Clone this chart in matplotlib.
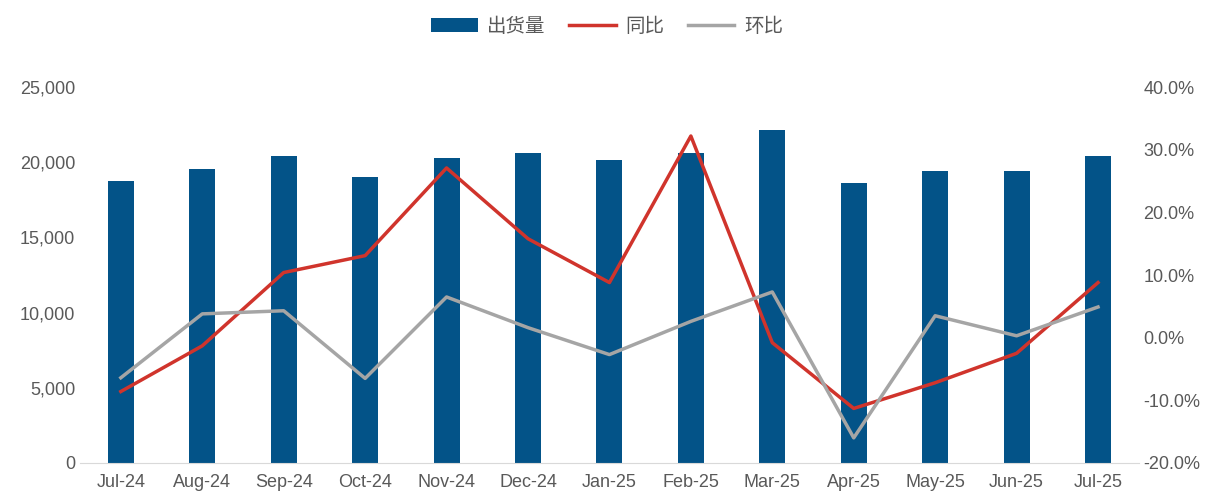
import matplotlib
matplotlib.use("Agg")
import matplotlib.pyplot as plt
from matplotlib.ticker import FuncFormatter

plt.rcParams['font.family'] = ['Liberation Sans', 'Noto Sans CJK SC', 'DejaVu Sans']

months = ["Jul-24","Aug-24","Sep-24","Oct-24","Nov-24","Dec-24","Jan-25","Feb-25","Mar-25","Apr-25","May-25","Jun-25","Jul-25"]
shipments = [18750,19550,20400,19050,20300,20650,20150,20650,22150,18650,19400,19450,20400]
yoy = [-8.6,-1.3,10.4,13.1,27.1,15.8,8.8,32.2,-0.8,-11.3,-7.2,-2.5,8.8]
mom = [-6.4,3.8,4.3,-6.5,6.5,1.6,-2.7,2.6,7.3,-16.0,3.5,0.3,4.9]

fig = plt.figure(figsize=(12.14,5.01), dpi=100)
ax = fig.add_axes([0.066,0.076,0.872,0.75])
ax2 = ax.twinx()
x = range(len(months))
b = ax.bar(x, shipments, width=0.32, color='#035388', label='出货量', zorder=2)
l1, = ax2.plot(x, yoy, color='#D0342C', lw=2.5, label='同比')
l2, = ax2.plot(x, mom, color='#A5A5A5', lw=2.5, label='环比')
ax.set_ylim(0,25000)
ax.set_yticks(range(0,25001,5000))
ax.yaxis.set_major_formatter(FuncFormatter(lambda v,p: f"{int(v):,}"))
ax2.set_ylim(-20,40)
ax2.set_yticks(range(-20,41,10))
ax2.yaxis.set_major_formatter(FuncFormatter(lambda v,p: f"{v:.1f}%"))
ax.set_xlim(-0.5,12.5)
ax.set_xticks(list(x)); ax.set_xticklabels(months)
for a in (ax,ax2):
    for s in ['top','left','right']:
        a.spines[s].set_visible(False)
    a.tick_params(length=0, labelsize=13, colors='#595959')
ax.spines['bottom'].set_color('#D9D9D9')
ax2.spines['bottom'].set_visible(False)
ax.tick_params(axis='x', pad=8)
fig.legend(handles=[b,l1,l2], loc='upper center', bbox_to_anchor=(0.5,1.0), ncol=3, frameon=False, fontsize=14, handlelength=2.4, handletextpad=0.5, columnspacing=1.2, labelcolor='#595959')
fig.savefig('out.png')
